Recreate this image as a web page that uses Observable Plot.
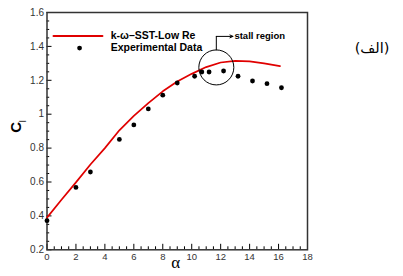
<!DOCTYPE html>
<html><head><meta charset="utf-8">
<script src="https://cdn.jsdelivr.net/npm/d3@7"></script>
<script src="https://cdn.jsdelivr.net/npm/@observablehq/plot@0.6"></script>
<style>body{margin:0;background:#fff}</style>
</head><body><div id="chart"></div>
<script>
// Model curve (k-ω–SST-Low Re)
const modelAlpha = [0, 1, 2, 3, 4, 5, 6, 7, 8, 9, 10, 11, 12, 13, 14, 15, 16.1];
const modelCl = [0.39, 0.495, 0.598, 0.703, 0.80, 0.905, 0.99, 1.065, 1.135, 1.193, 1.238, 1.278, 1.305, 1.315, 1.312, 1.30, 1.284];
// Experimental data
const expAlpha = [0, 2, 3, 5, 6, 7, 8, 9, 10.2, 10.7, 11.2, 12.2, 13.2, 14.2, 15.2, 16.2];
const expCl = [0.372, 0.568, 0.659, 0.851, 0.937, 1.031, 1.112, 1.184, 1.224, 1.249, 1.249, 1.255, 1.224, 1.196, 1.18, 1.156];
// Ticks
const xTicks = [0, 2, 4, 6, 8, 10, 12, 14, 16, 18];
const xTickLabels = ["0", "2", "4", "6", "8", "10", "12", "14", "16", "18"];
const yTicks = [0.2, 0.4, 0.6, 0.8, 1.0, 1.2, 1.4, 1.6];
const yTickLabels = ["0.2", "0.4", "0.6", "0.8", "1", "1.2", "1.4", "1.6"];
// Labels / annotation
const seriesNames = ["k-\u03c9\u2013SST-Low Re", "Experimental Data"];
const stallLabel = "stall region";
const stallCenter = {alpha: 11.7, cl: 1.276};
const panelLabel = "(\u0627\u0644\u0641)";

const xMinor = d3.range(0, 18.01, 0.5).filter(v => !xTicks.includes(v));
const yMinor = d3.range(0, 29).map(i => +(0.2 + i * 0.05).toFixed(2)).filter(v => !yTicks.some(t => Math.abs(t - v) < 1e-6));

const model = modelAlpha.map((a, i) => ({alpha: a, cl: modelCl[i]}));
const exp = expAlpha.map((a, i) => ({alpha: a, cl: expCl[i]}));

const legY1 = 1.462, legY2 = 1.39;
const arrowY = 1.459;

const chart = Plot.plot({
  width: 403,
  height: 276,
  marginLeft: 46.5,
  marginRight: 96,
  marginTop: 12,
  marginBottom: 26.7,
  style: {fontFamily: "'Liberation Sans', Arial, sans-serif", fontSize: "10px", background: "#fff", overflow: "visible"},
  x: {domain: [0, 18]},
  y: {domain: [0.2, 1.6]},
  marks: [
    Plot.axisX(xTicks, {tickSize: -5.5, tickPadding: 8.5, tickFormat: (d, i) => xTickLabels[i], label: null, fill: "#333", fontSize: 9.5}),
    Plot.axisX(xMinor, {tickSize: -3, tickFormat: () => "", label: null}),
    Plot.axisY(yTicks, {tickSize: -5, tickPadding: 8, tickFormat: (d, i) => yTickLabels[i], label: null, fill: "#333", fontSize: 10}),
    Plot.axisY(yMinor, {tickSize: -2.7, tickFormat: () => "", label: null}),
    Plot.frame({stroke: "#333", strokeWidth: 1.5}),
    Plot.line(model, {x: "alpha", y: "cl", stroke: "#e00000", strokeWidth: 1.7}),
    Plot.dot(exp, {x: "alpha", y: "cl", r: 2.4, fill: "black"}),
    // stall region annotation
    Plot.dot([stallCenter], {x: "alpha", y: "cl", r: 17.5, stroke: "black", strokeWidth: 1, fill: "none"}),
    Plot.line([{a: stallCenter.alpha, c: stallCenter.cl + 0.103}, {a: stallCenter.alpha, c: arrowY}], {x: "a", y: "c", stroke: "black", strokeWidth: 1}),
    Plot.arrow([{a1: stallCenter.alpha, a2: 12.85, c: arrowY}], {x1: "a1", x2: "a2", y1: "c", y2: "c", stroke: "black", strokeWidth: 1, headLength: 5, headAngle: 50}),
    Plot.text([stallLabel], {x: 12.95, y: arrowY, text: d => d, textAnchor: "start", fontWeight: "bold", fontSize: 9.5}),
    // legend
    Plot.line([{a: 0.45, c: legY1}, {a: 3.83, c: legY1}], {x: "a", y: "c", stroke: "#e00000", strokeWidth: 2}),
    Plot.dot([{a: 2.25, c: legY2}], {x: "a", y: "c", r: 2.4, fill: "black"}),
    Plot.text([seriesNames[0]], {x: 4.4, y: legY1, text: d => d, textAnchor: "start", fontWeight: "bold", fontSize: 10.5}),
    Plot.text([seriesNames[1]], {x: 4.4, y: legY2, text: d => d, textAnchor: "start", fontWeight: "bold", fontSize: 10.5}),
    // axis labels
    Plot.text(["C"], {frameAnchor: "left", dx: -31, dy: 1.5, rotate: -90, fontWeight: "bold", fontSize: 15, text: d => d}),
    Plot.text(["l"], {frameAnchor: "left", dx: -23.5, dy: -9, rotate: -90, fontSize: 9, text: d => d}),
    Plot.text(["\u03b1"], {frameAnchor: "bottom", dx: -1.5, dy: 18, fontFamily: "'Liberation Serif', 'Times New Roman', serif", fontSize: 17, text: d => d}),
    Plot.text([panelLabel], {frameAnchor: "top-right", dx: 82, dy: 30, fontSize: 14.5, fontFamily: "'DejaVu Sans', sans-serif", text: d => d})
  ]
});
document.getElementById("chart").appendChild(chart);
</script>
</body></html>
